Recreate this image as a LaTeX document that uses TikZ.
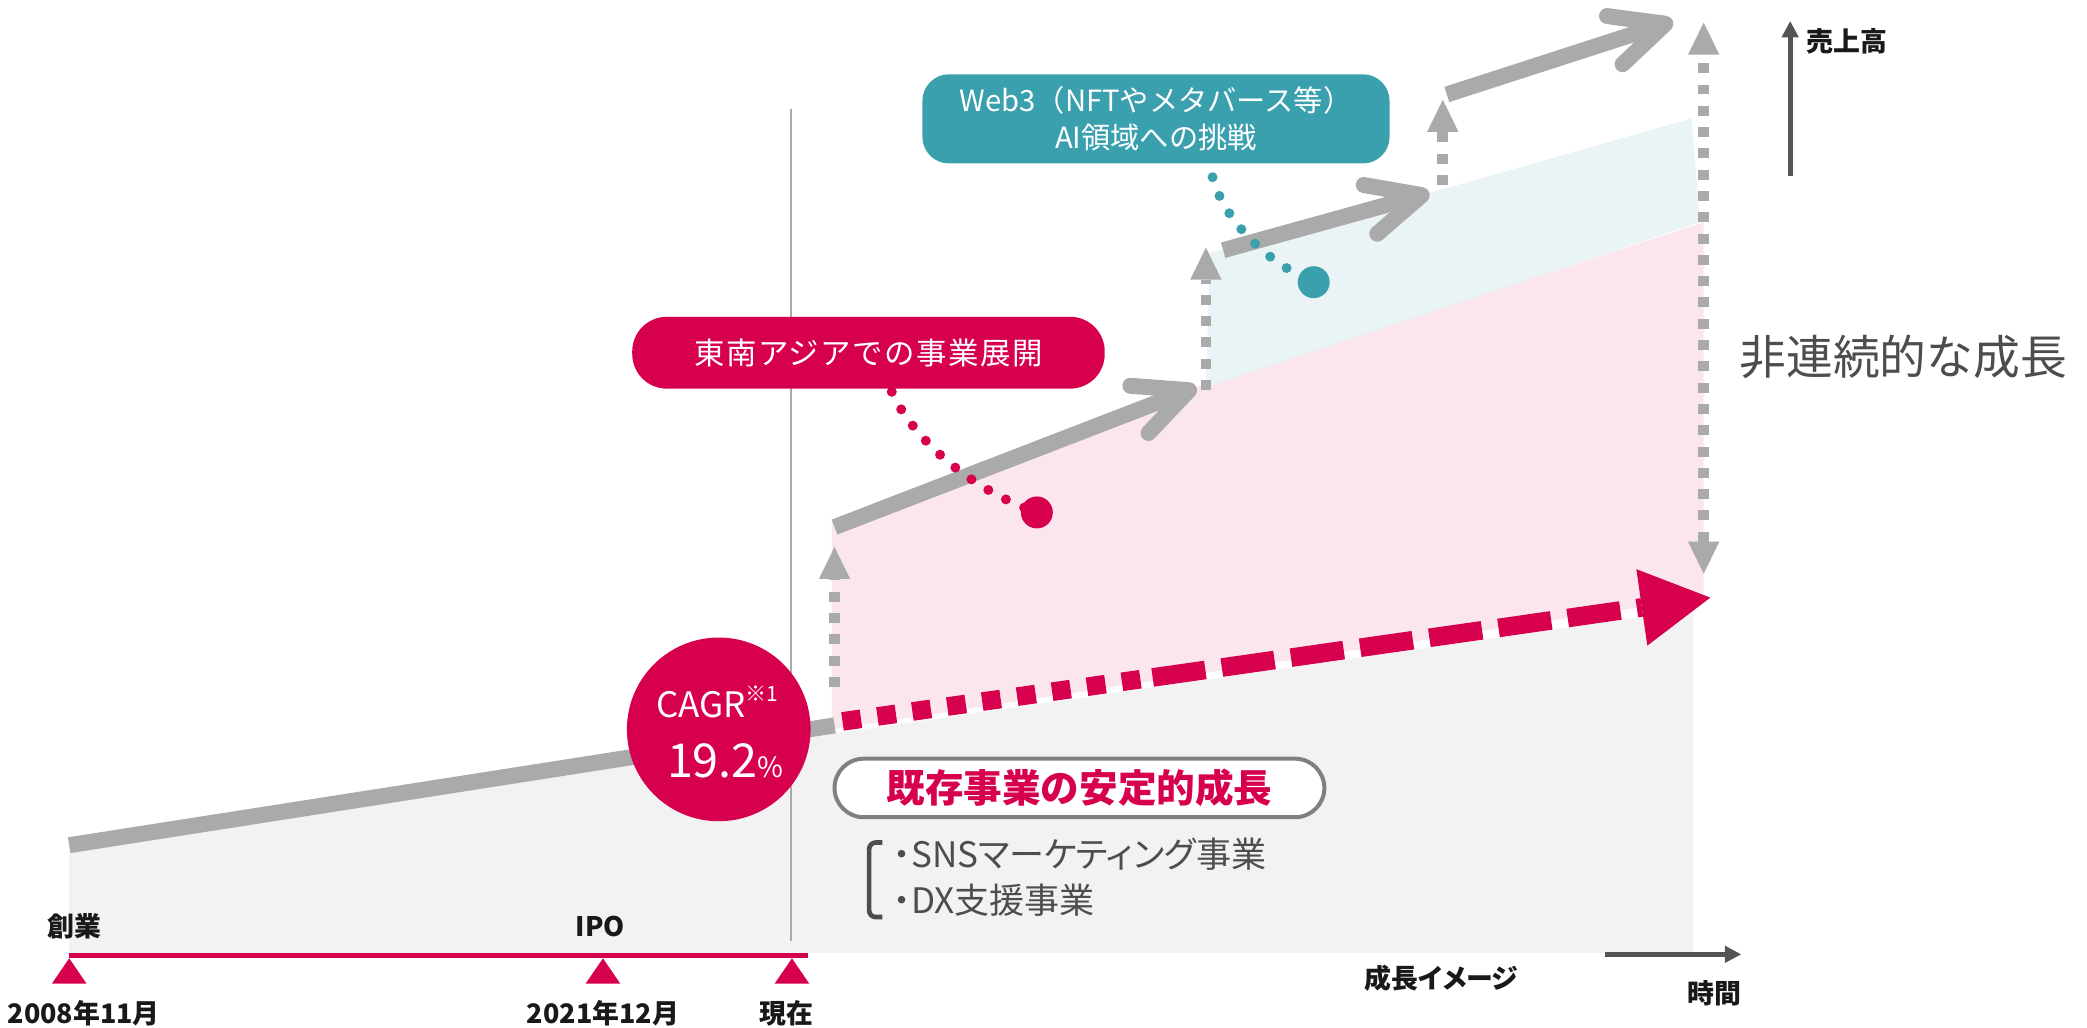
\documentclass[tikz,border=0pt]{standalone}
\usepackage{fontspec}
\setmainfont{Noto Sans CJK JP}
\usetikzlibrary{arrows.meta}
\definecolor{keypink}{HTML}{D7004F}
\definecolor{keyteal}{HTML}{3AA0AE}
\definecolor{stepgray}{HTML}{AAAAAA}
\definecolor{basegray}{HTML}{F2F2F2}
\definecolor{lightpink}{HTML}{FAE6EC}
\definecolor{lightblue}{HTML}{EAF3F6}
\definecolor{inkgray}{HTML}{4D4D4D}
\definecolor{axisgray}{HTML}{555555}
\definecolor{rimgray}{HTML}{808080}

\tikzset{
  jumptip/.tip={Triangle[length=4.8mm,width=4.7mm,line width=0pt]},
  leap/.style={draw=stepgray,line width=2.4mm,-{Straight Barb[round,length=8mm,width=7.6mm]}},
  jump/.style={draw=stepgray,line width=1.6mm,dash pattern=on 1.5mm off 1.7mm},
  flowdots/.style={draw=keypink,line width=2.8mm,dash pattern=on 2.8mm off 2.5mm},
  flowdash/.style={draw=keypink,line width=2.8mm,dash pattern=on 8mm off 2.5mm,-{Triangle[length=10.4mm,width=11.6mm,line width=0pt]}},
  beads/.style={line width=1.5mm,line cap=round,dash pattern=on 0pt off 3mm},
  pill/.style={inner sep=0pt,text=white},
  axis/.style={draw=axisgray,line width=0.7mm,-{Triangle[length=2.4mm,width=2.6mm,line width=0pt]}},
  caption/.style={font=\fontsize{11.5pt}{14pt}\selectfont\bfseries,text=black!90,inner sep=0pt},
}

\begin{document}
\begin{tikzpicture}[x=0.2mm,y=-0.2mm]
	\useasboundingbox (0,0) rectangle (1568,772);
	% areas
	\fill[lightpink] (625,548) -- (625,391) -- (899,291) -- (1280,167) -- (1280,449) -- cycle;
	\fill[lightblue] (906,291) -- (909,190) -- (1074,145) -- (1271,89) -- (1277,167) -- cycle;
	\fill[basegray] (52,641) -- (627,551) -- (1272,458) -- (1272,716) -- (52,716) -- cycle;
	\draw[stepgray,line width=0.3mm] (594.5,82) -- (594.5,707);

	% timeline
	\coordinate (found) at (52,720);
	\coordinate (ipo) at (453,720);
	\coordinate (now) at (595,720);
	\draw[keypink,line width=0.8mm] (52,718) -- (607,718);
	\fill[keypink] (found) -- ++(13,19) -- ++(-26,0) -- cycle;
	\fill[keypink] (ipo) -- ++(13,19) -- ++(-26,0) -- cycle;
	\fill[keypink] (now) -- ++(13,19) -- ++(-26,0) -- cycle;
	\node[caption] (foundlabel) at (56,696) {創業};
	\node[caption] (ipolabel) at (451,696) {IPO};
	\node[caption] (founddate) at (63,761) {2008年11月};
	\node[caption] (ipodate) at (453,761) {2021年12月};
	\node[caption] (nowdate) at (591,761) {現在};

	% past growth
	\coordinate (pastfrom) at (52,635);
	\coordinate (pastto) at (627,545);
	\draw[stepgray,line width=2.4mm] (pastfrom) -- (pastto);
	\node[circle,fill=keypink,minimum size=27.6mm,inner sep=0pt] (cagr) at (540,548) {};
	\node[anchor=base,text=white,inner sep=0pt,font=\fontsize{15pt}{15pt}\selectfont] (cagrname) at (539,539) {CAGR\raisebox{0.45em}{\fontsize{9pt}{9pt}\selectfont ※1}};
	\node[anchor=base,text=white,inner sep=0pt,font=\fontsize{20pt}{20pt}\selectfont] (cagrrate) at (545,584) {19.2{\fontsize{12pt}{12pt}\selectfont\%}};

	% steady growth
	\coordinate (flow0) at (633,542);
	\coordinate (flow1) at (866,509);
	\coordinate (flow2) at (1285,449);
	\draw[flowdots] (flow0) -- (flow1);
	\draw[flowdash] (flow1) -- (flow2);

	% leaps
	\coordinate (a0) at (627,396);
	\coordinate (a1) at (899,291);
	\coordinate (b0) at (919,188);
	\coordinate (b1) at (1074,145);
	\coordinate (c0) at (1087,71);
	\coordinate (c1) at (1257,16);
	\draw[leap] (a0) -- (a1);
	\draw[leap] (b0) -- (b1);
	\draw[leap] (c0) -- (c1);
	\draw[jump,-jumptip] (627,516) -- (627,411);
	\draw[jump,-jumptip] (906,293) -- (906,186);
	\draw[jump,-jumptip] (1084,139) -- (1084,75);
	\draw[jump,jumptip-jumptip] (1280,431) -- (1280,17);

	% callouts
	\node[pill,fill=keypink,rounded corners=5.2mm,minimum width=71mm,minimum height=10.8mm,font=\fontsize{13pt}{15pt}\selectfont\addfontfeature{LetterSpace=5}] (asia) at (652.5,265) {東南アジアでの事業展開};
	\node[circle,fill=keypink,minimum size=4.8mm,inner sep=0pt] (asiadot) at (779,385) {};
	\draw[keypink,beads] ([xshift=3.5mm,yshift=-0.4mm]asia.south) .. controls (682,322) and (720,364) .. (asiadot.center);
	\node[pill,fill=keyteal,rounded corners=4mm,minimum width=70.2mm,minimum height=13.4mm,align=center,font=\fontsize{12.5pt}{16pt}\selectfont] (web) at (868.5,89.3) {Web3（NFTやメタバース等）\\AI領域への挑戦};
	\node[circle,fill=keyteal,minimum size=4.8mm,inner sep=0pt] (webdot) at (987,212) {};
	\draw[keyteal,beads] ([xshift=8.5mm,yshift=-2mm]web.south) .. controls (918,160) and (945,194) .. (webdot.center);

	% existing business
	\node[draw=rimgray,line width=0.6mm,fill=white,rounded corners=4.4mm,minimum width=73.6mm,minimum height=8.8mm,inner sep=0pt,text=keypink,font=\fontsize{16.5pt}{18pt}\selectfont\bfseries] (steady) at (811,592) {既存事業の安定的成長};
	\draw[inkgray,line width=0.7mm,rounded corners=1mm] (663,633) -- (653,633) -- (653,689) -- (663,689);
	\node[anchor=west,inner sep=0pt,text=inkgray,font=\fontsize{15pt}{18pt}\selectfont\addfontfeature{RawFeature=+palt}] (sns) at (671,642) {・SNSマーケティング事業};
	\node[anchor=west,inner sep=0pt,text=inkgray,font=\fontsize{15pt}{18pt}\selectfont\addfontfeature{RawFeature=+palt}] (dx) at (671,676) {・DX支援事業};

	% axes
	\draw[axis] (1345,132) -- (1345,16);
	\node[caption,anchor=west] (sales) at (1357,31) {売上高};
	\draw[axis] (1206,717) -- (1308,717);
	\node[caption] (timelabel) at (1288,746) {時間};
	\node[caption,font=\fontsize{11.5pt}{14pt}\selectfont\bfseries\addfontfeature{RawFeature=+palt}] (imagelabel) at (1083,735) {成長イメージ};
	\node[text=inkgray,inner sep=0pt,font=\fontsize{20pt}{22pt}\selectfont] (leaplabel) at (1430,268) {非連続的な成長};
\end{tikzpicture}
\end{document}
